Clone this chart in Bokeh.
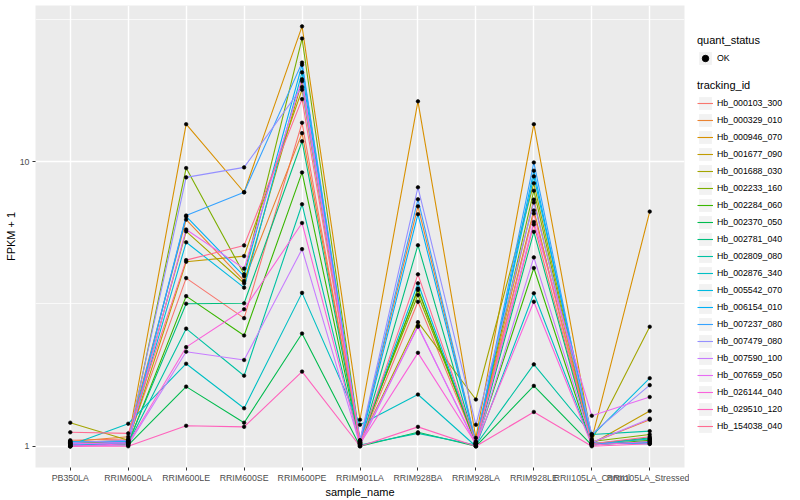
from bokeh.plotting import figure
from bokeh.layouts import row
from bokeh.models import (ColumnDataSource, FactorRange, Range1d, FixedTicker,
                          Legend, LegendItem, CustomJSTickFormatter)
from bokeh.embed import file_html
from bokeh.resources import INLINE

samples = ["PB350LA", "RRIM600LA", "RRIM600LE", "RRIM600SE", "RRIM600PE",
           "RRIM901LA", "RRIM928BA", "RRIM928LA", "RRIM928LE",
           "RRII105LA_Control", "RRII105LA_Stressed"]

tracking_ids = ["Hb_000103_300", "Hb_000329_010", "Hb_000946_070", "Hb_001677_090",
                "Hb_001688_030", "Hb_002233_160", "Hb_002284_060", "Hb_002370_050",
                "Hb_002781_040", "Hb_002809_080", "Hb_002876_340", "Hb_005542_070",
                "Hb_006154_010", "Hb_007237_080", "Hb_007479_080", "Hb_007590_100",
                "Hb_007659_050", "Hb_026144_040", "Hb_029510_120", "Hb_154038_040"]

colors = ["#F8766D", "#EA8331", "#D89000", "#C09B00", "#A3A500", "#7CAE00",
          "#39B600", "#00BB4E", "#00BF7D", "#00C1A3", "#00BFC4", "#00BAE0",
          "#00B0F6", "#35A2FF", "#9590FF", "#C77CFF", "#E76BF3", "#FA62DB",
          "#FF62BC", "#FF6C91"]

# FPKM + 1 per sample (order of `samples`)
hb_000103_300 = [1.05, 1.06, 3.90, 2.82, 13.7, 1.02, 3.22, 1.02, 6.02, 1.02, 1.06]
hb_000329_010 = [1.04, 1.08, 6.26, 3.81, 12.6, 1.04, 6.97, 1.03, 7.36, 1.03, 1.24]
hb_000946_070 = [1.03, 1.05, 13.55, 7.81, 29.9, 1.24, 16.3, 1.07, 13.55, 1.06, 6.68]
hb_001677_090 = [1.02, 1.04, 4.45, 4.66, 17.9, 1.03, 3.54, 1.02, 6.74, 1.02, 1.33]
hb_001688_030 = [1.21, 1.05, 5.69, 3.74, 19.2, 1.03, 2.73, 1.46, 8.40, 1.05, 2.63]
hb_002233_160 = [1.03, 1.03, 9.50, 4.02, 27.1, 1.05, 3.40, 1.04, 7.91, 1.04, 1.10]
hb_002284_060 = [1.01, 1.02, 3.37, 2.45, 9.17, 1.02, 3.58, 1.02, 4.23, 1.01, 1.05]
hb_002370_050 = [1.02, 1.01, 1.62, 1.21, 2.49, 1.00, 1.12, 1.00, 1.63, 1.01, 1.04]
hb_002781_040 = [1.02, 1.03, 3.17, 3.18, 11.8, 1.01, 5.09, 1.01, 5.67, 1.02, 1.07]
hb_002809_080 = [1.01, 1.02, 2.59, 1.77, 7.09, 1.01, 1.11, 1.01, 1.94, 1.10, 1.13]
hb_002876_340 = [1.01, 1.20, 1.95, 1.36, 3.46, 1.19, 1.52, 1.00, 3.45, 1.02, 1.06]
hb_005542_070 = [1.04, 1.04, 5.21, 3.61, 20.6, 1.03, 3.74, 1.03, 8.88, 1.087, 1.735]
hb_006154_010 = [1.00, 1.03, 6.42, 3.96, 21.9, 1.02, 6.54, 1.02, 9.30, 1.02, 1.03]
hb_007237_080 = [1.01, 1.04, 6.47, 7.81, 22.3, 1.04, 7.38, 1.03, 9.94, 1.03, 1.02]
hb_007479_080 = [1.03, 1.05, 8.81, 9.55, 18.3, 1.05, 8.13, 1.19, 7.19, 1.105, 1.64]
hb_007590_100 = [1.00, 1.01, 2.15, 2.01, 4.93, 1.01, 2.65, 1.01, 4.61, 1.03, 1.25]
hb_007659_050 = [1.02, 1.03, 5.78, 4.21, 19.5, 1.03, 2.63, 1.02, 6.14, 1.28, 1.49]
hb_026144_040 = [1.00, 1.02, 2.23, 3.03, 6.09, 1.02, 2.13, 1.02, 3.22, 1.01, 1.04]
hb_029510_120 = [1.00, 1.00, 1.18, 1.17, 1.83, 1.00, 1.17, 1.00, 1.32, 1.00, 1.02]
hb_154038_040 = [1.12, 1.11, 4.51, 5.08, 16.6, 1.02, 4.02, 1.03, 6.58, 1.02, 1.08]

series_values = [hb_000103_300, hb_000329_010, hb_000946_070, hb_001677_090,
                 hb_001688_030, hb_002233_160, hb_002284_060, hb_002370_050,
                 hb_002781_040, hb_002809_080, hb_002876_340, hb_005542_070,
                 hb_006154_010, hb_007237_080, hb_007479_080, hb_007590_100,
                 hb_007659_050, hb_026144_040, hb_029510_120, hb_154038_040]

FONT = "Liberation Sans"
TOTAL_H = 500
MAIN_W = 689
LEG_W = 111

p = figure(x_range=FactorRange(factors=samples, range_padding=0.1,
                               range_padding_units="absolute"),
           y_range=Range1d(10 ** -0.0746, 10 ** 1.549),
           y_axis_type="log", title=None,
           width=MAIN_W, height=TOTAL_H,
           output_backend="svg", toolbar_location=None,
           min_border_left=35, min_border_right=5, min_border_top=5,
           min_border_bottom=0)

p.background_fill_color = "#EBEBEB"
p.border_fill_color = "white"
p.outline_line_color = None

yt = FixedTicker(ticks=[1, 10], minor_ticks=[10 ** 0.5, 10 ** 1.5])
p.yaxis.ticker = yt
p.ygrid.ticker = yt
p.yaxis.formatter = CustomJSTickFormatter(code="return String(Math.round(tick))")

p.xgrid.grid_line_color = "white"
p.xgrid.grid_line_width = 1.4
p.ygrid.grid_line_color = "white"
p.ygrid.grid_line_width = 1.4
p.ygrid.minor_grid_line_color = "white"
p.ygrid.minor_grid_line_width = 0.7

for ax in (p.xaxis, p.yaxis):
    ax.axis_line_color = None
    ax.major_tick_line_color = "#333333"
    ax.major_tick_out = 3
    ax.major_tick_in = 0
    ax.minor_tick_line_color = None
    ax.major_label_text_font = FONT
    ax.major_label_text_font_size = "8.8px"
    ax.major_label_text_color = "#4D4D4D"
    ax.major_label_standoff = 2
    ax.axis_label_text_font = FONT
    ax.axis_label_text_font_size = "11px"
    ax.axis_label_text_font_style = "normal"
    ax.axis_label_text_color = "black"
    ax.axis_label_standoff = 0

p.xaxis.axis_label = "sample_name"
p.yaxis.axis_label = "FPKM + 1"

sources = []
for vals in series_values:
    sources.append(ColumnDataSource(dict(sample=samples, fpkm=vals)))

for src, col in zip(sources, colors):
    p.line("sample", "fpkm", source=src, line_color=col, line_width=1.1)

for src in sources:
    p.scatter("sample", "fpkm", source=src, marker="circle", size=3.6,
              fill_color="black", line_color="black", line_width=0.6)

# ---- legend panel (a separate, axis-less figure) ----
lf = figure(width=LEG_W, height=TOTAL_H, x_range=FactorRange(factors=samples),
            y_range=Range1d(1000, 1001), title=None,
            x_axis_location=None, y_axis_location=None,
            output_backend="svg", toolbar_location=None,
            min_border_left=0, min_border_right=0, min_border_top=0,
            min_border_bottom=0)
lf.grid.visible = False
lf.outline_line_color = None
lf.background_fill_color = "white"
lf.border_fill_color = "white"

# key background: drawn only inside the legend boxes
key_bg = lf.rect("sample", "fpkm", source=sources[0], width=0, height=0,
                 width_units="screen", height_units="screen",
                 fill_color="#F2F2F2", line_color=None)
leg_pt = lf.scatter("sample", "fpkm", source=sources[0], marker="circle", size=3.6,
                    fill_color="black", line_color="black")
leg_lines = [lf.line("sample", "fpkm", source=src, line_color=col, line_width=1.1)
             for src, col in zip(sources, colors)]


def style_legend(leg):
    leg.background_fill_alpha = 0
    leg.border_line_color = None
    leg.padding = 0
    leg.margin = 0
    leg.spacing = 1
    leg.glyph_width = 16
    leg.glyph_height = 16
    leg.label_height = 16
    leg.label_standoff = 4
    leg.label_text_font = FONT
    leg.label_text_font_size = "8.8px"
    leg.label_text_color = "black"
    leg.title_text_font = FONT
    leg.title_text_font_size = "11px"
    leg.title_text_font_style = "normal"
    leg.title_text_color = "black"
    leg.title_standoff = 4


leg_q = Legend(items=[LegendItem(label="OK", renderers=[key_bg, leg_pt])],
               title="quant_status", location=(8, 401))
style_legend(leg_q)
lf.add_layout(leg_q)

leg_t = Legend(items=[LegendItem(label=tid, renderers=[key_bg, r])
                      for tid, r in zip(tracking_ids, leg_lines)],
               title="tracking_id", location=(8, 33))
style_legend(leg_t)
lf.add_layout(leg_t)

open("out.html", "w").write(file_html(row(p, lf), INLINE))
